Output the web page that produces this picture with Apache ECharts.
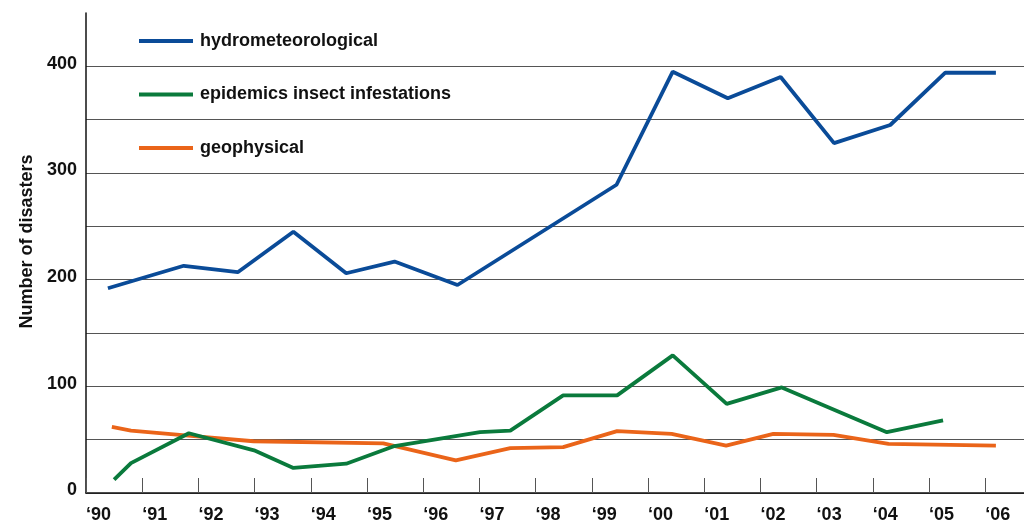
<!DOCTYPE html>
<html>
<head>
<meta charset="utf-8">
<script src="https://cdn.jsdelivr.net/npm/echarts@6/dist/echarts.min.js"></script>
<style>
html,body{margin:0;padding:0;background:#fff;}
#chart{width:1024px;height:521px;}
</style>
</head>
<body>
<div id="chart"></div>
<script>
// Tick years on the x axis
const tickYears = [1990,1991,1992,1993,1994,1995,1996,1997,1998,1999,2000,2001,2002,2003,2004,2005,2006];

// Series names
const seriesNames = ['hydrometeorological', 'epidemics insect infestations', 'geophysical'];

// hydrometeorological (x position in years, value)
const hydroX = [1990.39, 1991.74, 1992.70, 1993.69, 1994.63, 1995.49, 1996.61, 1999.44, 2000.44, 2001.42, 2002.36, 2003.31, 2004.31, 2005.29, 2006.19];
const hydroY = [192, 213, 207, 245, 206, 217, 195, 289, 395, 370, 390, 328, 345, 394, 394];

// epidemics insect infestations
const epiX = [1990.50, 1990.80, 1991.83, 1992.99, 1993.69, 1994.63, 1995.49, 1997.01, 1997.55, 1998.49, 1999.45, 2000.44, 2001.40, 2002.38, 2004.25, 2005.25];
const epiY = [12.5, 28, 56, 40, 23.5, 27.5, 44, 57, 58.5, 91.5, 91.5, 129, 83.5, 99, 57, 68];

// geophysical
const geoX = [1990.46, 1990.80, 1991.97, 1992.98, 1995.29, 1996.58, 1997.55, 1998.49, 1999.45, 2000.42, 2001.39, 2002.23, 2003.30, 2004.28, 2006.19];
const geoY = [62, 58.5, 53, 48.5, 46.5, 30.5, 42, 43, 58, 55.5, 44.5, 55.5, 54.5, 46, 44.5];

const colors = { hydro: '#0a4b98', epi: '#0a7a3c', geo: '#ea6419' };
const pairs = (xs, ys) => xs.map((x, i) => [x, ys[i]]);

const font = '"Liberation Sans", Arial, Helvetica, sans-serif';
const chart = echarts.init(document.getElementById('chart'), null, { renderer: 'canvas' });

chart.setOption({
  animation: false,
  backgroundColor: '#ffffff',
  grid: { left: 86, right: 0, top: 13, bottom: 28, containLabel: false, outerBoundsMode: 'none' },
  legend: {
    orient: 'vertical',
    left: 134,
    top: 27,
    icon: 'rect',
    itemWidth: 54,
    itemHeight: 4,
    itemGap: 35.5,
    data: seriesNames,
    textStyle: { fontFamily: font, fontWeight: 'bold', fontSize: 18, color: '#111', lineHeight: 16, padding: [0, 0, 0, 2] }
  },
  xAxis: {
    type: 'value',
    min: 1990,
    max: 2006.69,
    interval: 1,
    axisLine: { show: true, lineStyle: { color: '#111', width: 1.5 } },
    axisTick: { show: true, inside: true, length: 15, lineStyle: { color: '#555', width: 1 }, customValues: tickYears },
    splitLine: { show: false },
    axisLabel: {
      customValues: tickYears,
      formatter: v => '\u2018' + String(v).slice(2),
      align: 'left',
      margin: 13,
      fontFamily: font, fontWeight: 'bold', fontSize: 18, color: '#111'
    }
  },
  yAxis: {
    type: 'value',
    min: 0,
    max: 450,
    interval: 50,
    name: 'Number of disasters',
    nameLocation: 'middle',
    nameRotate: 90,
    nameGap: 50,
    nameTextStyle: { fontFamily: font, fontWeight: 'bold', fontSize: 18, color: '#111', padding: [0, 0, 0, 23] },
    axisLine: { show: true, lineStyle: { color: '#111', width: 1.5 } },
    axisTick: { show: false },
    splitLine: { show: true, showMaxLine: false, lineStyle: { color: '#555', width: 1 } },
    axisLabel: {
      formatter: v => (v % 100 === 0 ? String(v) : ''),
      margin: 9,
      verticalAlign: 'bottom',
      lineHeight: 5,
      fontFamily: font, fontWeight: 'bold', fontSize: 18, color: '#111'
    }
  },
  series: [
    {
      name: seriesNames[2], type: 'line', data: pairs(geoX, geoY),
      symbol: 'none', color: colors.geo, lineStyle: { width: 3.8, color: colors.geo }, z: 2
    },
    {
      name: seriesNames[1], type: 'line', data: pairs(epiX, epiY),
      symbol: 'none', color: colors.epi, lineStyle: { width: 3.8, color: colors.epi }, z: 3
    },
    {
      name: seriesNames[0], type: 'line', data: pairs(hydroX, hydroY),
      symbol: 'none', color: colors.hydro, lineStyle: { width: 3.8, color: colors.hydro }, z: 4
    }
  ]
});
</script>
</body>
</html>
